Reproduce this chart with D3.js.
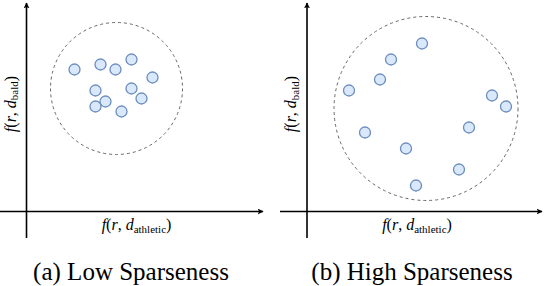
<!DOCTYPE html>
<html><head><meta charset="utf-8">
<script src="https://cdn.jsdelivr.net/npm/d3@7"></script>
<style>body{margin:0;background:#fff}svg{display:block}</style>
</head><body>
<script>
// Data (units: distance from axis origin)
const lowX = [48, 74, 89, 105, 126, 69, 105, 115, 79, 69, 95];
const lowY = [142, 147, 142, 152, 134, 121, 123, 113, 110, 105, 100];
const lowCircle = {cx: 90, cy: 123, r: 66};
const highX = [115, 84, 73, 42, 185, 199, 162, 58, 99, 152, 109];
const highY = [168, 152, 132, 121, 116, 105, 84, 79, 63, 42, 26];
const highCircle = {cx: 119, cy: 103, r: 92};
const captions = ["(a) Low Sparseness", "(b) High Sparseness"];

const FONT = '"Liberation Serif"';
const svg = d3.select("body").append("svg").attr("width", 544).attr("height", 286);
const defs = svg.append("defs");
defs.append("marker").attr("id","arr").attr("viewBox","0 0 10 10").attr("refX",9).attr("refY",5)
  .attr("markerWidth",6).attr("markerHeight",6).attr("markerUnits","userSpaceOnUse").attr("orient","auto")
  .append("path").attr("d","M0,0L10,5L0,10L2.5,5Z").attr("fill","#000");

const panels = [
  {xs: lowX, ys: lowY, c: lowCircle, ox: 26.5, left: 0, right: 263, cap: captions[0], capX: 131},
  {xs: highX, ys: highY, c: highCircle, ox: 307, left: 280, right: 542, cap: captions[1], capX: 412}
];
const oy = 211.5;

function label(sel, sub) {
  sel.append("tspan").style("font-style","italic").text("f");
  sel.append("tspan").text("(");
  sel.append("tspan").style("font-style","italic").text("r");
  sel.append("tspan").text(", ");
  sel.append("tspan").style("font-style","italic").text("d");
  sel.append("tspan").style("font-size","11px").attr("dy",2.5).text(sub);
  sel.append("tspan").attr("dy",-2.5).text(")");
}

panels.forEach(p => {
  const x = d3.scaleLinear().domain([0, 100]).range([p.ox, p.ox + 100]);
  const y = d3.scaleLinear().domain([0, 100]).range([oy, oy - 100]);
  const g = svg.append("g");
  g.append("line").attr("x1", p.left).attr("x2", p.right).attr("y1", oy).attr("y2", oy)
    .attr("stroke","#000").attr("stroke-width",1.6).attr("marker-end","url(#arr)");
  g.append("line").attr("x1", p.ox).attr("x2", p.ox).attr("y1", 238).attr("y2", 3)
    .attr("stroke","#000").attr("stroke-width",1.6).attr("marker-end","url(#arr)");
  g.append("circle").attr("cx", x(p.c.cx)).attr("cy", y(p.c.cy)).attr("r", x(p.c.r) - x(0))
    .attr("fill","none").attr("stroke","#666").attr("stroke-width",1).attr("stroke-dasharray","3,3");
  g.selectAll("circle.pt").data(p.xs.map((v,i)=>[v,p.ys[i]])).join("circle").attr("class","pt")
    .attr("cx", d=>x(d[0])).attr("cy", d=>y(d[1])).attr("r", 5.5)
    .attr("fill","#dae8fc").attr("stroke","#6c8ebf").attr("stroke-width",1.3);
  const xl = g.append("text").attr("x", p.ox + 110).attr("y", 230).attr("text-anchor","middle")
    .style("font-family", FONT).style("font-size","16px");
  label(xl, "athletic");
  const yl = g.append("text").attr("transform", `translate(${p.ox - 11},104) rotate(-90)`).attr("text-anchor","middle")
    .style("font-family", FONT).style("font-size","16px");
  label(yl, "bald");
  g.append("text").attr("x", p.capX).attr("y", 280).attr("text-anchor","middle")
    .style("font-family", FONT).style("font-size","25px").text(p.cap);
});
</script>
</body></html>
